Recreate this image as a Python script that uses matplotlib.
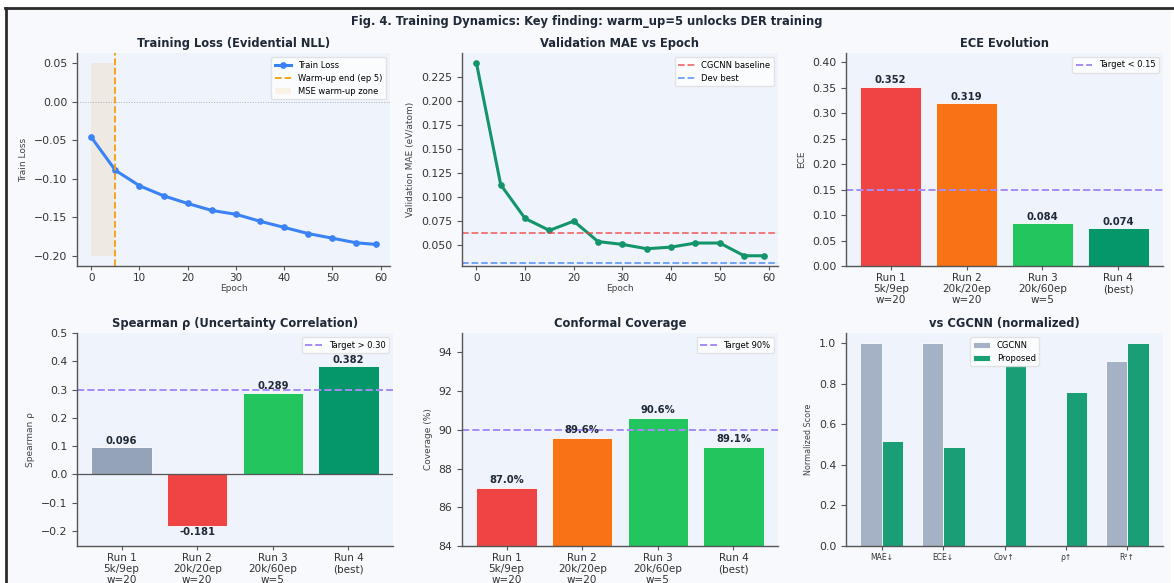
"""
Fig. 4 training dynamics: loss / MAE curves plus calibration bar charts.
"""

import matplotlib
matplotlib.use("Agg")
import matplotlib.pyplot as plt
import numpy as np
from matplotlib.lines import Line2D
from matplotlib.patches import Rectangle

# per-epoch curves
epochs = [0, 5, 10, 15, 20, 25, 30, 35, 40, 45, 50, 55, 59]
train_loss = [-0.046, -0.089, -0.109, -0.122, -0.132, -0.141, -0.146,
              -0.155, -0.163, -0.171, -0.177, -0.183, -0.185]
val_mae = [0.2395, 0.113, 0.078, 0.0656, 0.0752, 0.054, 0.0511,
           0.0466, 0.0483, 0.0525, 0.0525, 0.0393, 0.0393]
warmup_epoch = 5
cgcnn_mae = 0.063
dev_best_mae = 0.032

# per-run summary metrics
run_labels = ["Run 1\n5k/9ep\nw=20", "Run 2\n20k/20ep\nw=20",
              "Run 3\n20k/60ep\nw=5", "Run 4\n(best)"]
ece = [0.352, 0.319, 0.084, 0.074]
spearman = [0.096, -0.181, 0.289, 0.382]
coverage = [87.0, 89.6, 90.6, 89.1]
ece_target = 0.15
spearman_target = 0.30
coverage_target = 90

# normalized comparison against CGCNN
metric_labels = ["MAE↓", "ECE↓", "Cov↑", "ρ↑", "R²↑"]
cgcnn_norm = [1.0, 1.0, 0.0, 0.0, 0.91]
proposed_norm = [0.52, 0.49, 0.89, 0.76, 1.0]

RED = "#ef4444"
ORANGE = "#f97316"
GREEN = "#22c55e"
DARK_GREEN = "#059669"
SLATE = "#94a3b8"
PURPLE = "#a78bfa"
BLUE = "#3b82f6"
AX_BG = "#eef3fc"
FIG_BG = "#f7f9fc"
TEXT = "#1f2937"

plt.rcParams.update({
    "font.family": "DejaVu Sans",
    "font.size": 7,
    "axes.edgecolor": "#555555",
    "axes.linewidth": 1.0,
    "xtick.color": "#555555",
    "ytick.color": "#555555",
    "xtick.labelcolor": "#333333",
    "ytick.labelcolor": "#333333",
    "xtick.labelsize": 7.5,
    "ytick.labelsize": 7.8,
    "axes.labelsize": 6.5,
    "axes.labelcolor": "#444444",
    "legend.fontsize": 6,
})

W, H = 1174, 583


def px_axes(fig, left, top, right, bottom):
    """Add axes from pixel edges (measured from the top-left)."""
    ax = fig.add_axes([left / W, (H - bottom) / H, (right - left) / W, (bottom - top) / H])
    ax.set_facecolor(AX_BG)
    ax.spines["top"].set_visible(False)
    ax.spines["right"].set_visible(False)
    ax.tick_params(axis="x", length=3, width=0.8, pad=2)
    ax.tick_params(axis="y", length=3.5, width=0.8, pad=3.5)
    return ax


def title(ax, text):
    ax.set_title(text, fontsize=8.3, fontweight="bold", color=TEXT, pad=4)


def label_bars(ax, bars, values, fmt, offset):
    for bar, v in zip(bars, values):
        x = bar.get_x() + bar.get_width() / 2
        if v >= 0:
            ax.annotate(fmt.format(v), (x, v), xytext=(0, offset), textcoords="offset points",
                        ha="center", va="bottom", fontsize=7.2, fontweight="bold", color=TEXT)
        else:
            ax.annotate(fmt.format(v), (x, v), xytext=(0, -offset), textcoords="offset points",
                        ha="center", va="top", fontsize=7.2, fontweight="bold", color=TEXT)


fig = plt.figure(figsize=(W / 100, H / 100), dpi=100)
fig.patch.set_facecolor("white")

# page background and the frame on top / left
fig.add_artist(Rectangle((6 / W, 0), (1171 - 6) / W, (H - 8) / H,
                         transform=fig.transFigure, facecolor=FIG_BG, edgecolor="none", zorder=-10))
fig.add_artist(Line2D([5 / W, 1], [1 - 8 / H, 1 - 8 / H], transform=fig.transFigure,
                      color="#2b2b2b", lw=2))
fig.add_artist(Line2D([6 / W, 6 / W], [0, 1 - 8 / H], transform=fig.transFigure,
                      color="#2b2b2b", lw=2))

fig.text(0.5, 1 - 22 / H, "Fig. 4. Training Dynamics: Key finding: warm_up=5 unlocks DER training",
         ha="center", va="center", fontsize=8.3, fontweight="bold", color=TEXT)

cols = [(77, 390), (462, 778), (846, 1163)]
rows = [(53, 266), (333, 546)]
x_runs = np.arange(len(run_labels))

# --- training loss
ax = px_axes(fig, cols[0][0], rows[0][0], cols[0][1], rows[0][1])
ax.fill_between([0, warmup_epoch], -0.20, 0.05, color="#f59e0b", alpha=0.1, lw=0,
                label="MSE warm-up zone")
ax.plot(epochs, train_loss, "o-", color=BLUE, lw=2.2, ms=3.8, label="Train Loss")
ax.axvline(warmup_epoch, color="#f59e0b", ls="--", lw=1.3, label="Warm-up end (ep 5)")
ax.axhline(0, color="gray", ls=":", lw=0.7, alpha=0.6)
ax.set_xticks(range(0, 61, 10))
ax.set_yticks([0.05, 0.0, -0.05, -0.10, -0.15, -0.20])
ax.set_ylim(-0.213, 0.063)
ax.set_xlabel("Epoch", labelpad=1)
ax.set_ylabel("Train Loss")
h, l = ax.get_legend_handles_labels()
ax.legend([h[1], h[2], h[0]], [l[1], l[2], l[0]], loc="upper right", framealpha=0.8,
          edgecolor="#dddddd", fancybox=True)
title(ax, "Training Loss (Evidential NLL)")

# --- validation MAE
ax = px_axes(fig, cols[1][0], rows[0][0], cols[1][1], rows[0][1])
ax.plot(epochs, val_mae, "o-", color="#14946a", lw=2.2, ms=3.8)
ax.axhline(cgcnn_mae, color=RED, ls="--", lw=1.3, alpha=0.75, label="CGCNN baseline")
ax.axhline(dev_best_mae, color=BLUE, ls="--", lw=1.3, alpha=0.75, label="Dev best")
ax.set_xticks(range(0, 61, 10))
ax.set_yticks([0.050, 0.075, 0.100, 0.125, 0.150, 0.175, 0.200, 0.225])
ax.set_ylim(0.0287, 0.2495)
ax.set_xlabel("Epoch", labelpad=1)
ax.set_ylabel("Validation MAE (eV/atom)")
ax.legend(loc="upper right", framealpha=0.8, edgecolor="#dddddd")
title(ax, "Validation MAE vs Epoch")

# --- ECE per run
ax = px_axes(fig, cols[2][0], rows[0][0], cols[2][1], rows[0][1])
bars = ax.bar(x_runs, ece, width=0.8, color=[RED, ORANGE, GREEN, DARK_GREEN],
              edgecolor="white", lw=0.6)
label_bars(ax, bars, ece, "{:.3f}", 1)
ax.axhline(ece_target, color=PURPLE, ls="--", lw=1.4, label="Target < 0.15")
ax.set_xticks(x_runs)
ax.set_xticklabels(run_labels, linespacing=1.15)
ax.set_ylim(0, 0.418)
ax.set_yticks(np.arange(0, 0.41, 0.05))
ax.set_ylabel("ECE")
ax.legend(loc="upper right", framealpha=0.8, edgecolor="#dddddd")
title(ax, "ECE Evolution")

# --- Spearman rho per run
ax = px_axes(fig, cols[0][0], rows[1][0], cols[0][1] + 3, rows[1][1])
bars = ax.bar(x_runs, spearman, width=0.8, color=[SLATE, RED, GREEN, DARK_GREEN],
              edgecolor="white", lw=0.6)
label_bars(ax, bars, spearman, "{:.3f}", 1)
ax.axhline(0, color="#555555", lw=0.9)
ax.axhline(spearman_target, color=PURPLE, ls="--", lw=1.4, label="Target > 0.30")
ax.set_xticks(x_runs)
ax.set_xticklabels(run_labels, linespacing=1.15)
ax.set_ylim(-0.253, 0.5)
ax.set_yticks(np.arange(-0.2, 0.51, 0.1))
ax.set_ylabel("Spearman ρ")
ax.legend(loc="upper right", framealpha=0.8, edgecolor="#dddddd")
title(ax, "Spearman ρ (Uncertainty Correlation)")

# --- conformal coverage per run
ax = px_axes(fig, cols[1][0], rows[1][0], cols[1][1], rows[1][1])
bars = ax.bar(x_runs, coverage, width=0.8, color=[RED, ORANGE, GREEN, GREEN],
              edgecolor="white", lw=0.6)
label_bars(ax, bars, coverage, "{:.1f}%", 2)
ax.axhline(coverage_target, color=PURPLE, ls="--", lw=1.4, label="Target 90%")
ax.set_xticks(x_runs)
ax.set_xticklabels(run_labels, linespacing=1.15)
ax.set_ylim(84, 95)
ax.set_yticks(range(84, 95, 2))
ax.set_ylabel("Coverage (%)")
ax.legend(loc="upper right", framealpha=0.8, edgecolor="#dddddd")
title(ax, "Conformal Coverage")

# --- normalized comparison
ax = px_axes(fig, cols[2][0], rows[1][0], cols[2][1], rows[1][1])
x_m = np.arange(len(metric_labels))
w = 0.35
ax.bar(x_m - w / 2, cgcnn_norm, width=w, color="#a5b2c6", edgecolor="white", lw=0.6, label="CGCNN")
ax.bar(x_m + w / 2, proposed_norm, width=w, color="#1a9e76", edgecolor="white", lw=0.6,
       label="Proposed")
ax.set_xticks(x_m)
ax.set_xticklabels(metric_labels, fontsize=5.5)
ax.set_ylabel("Normalized Score", fontsize=5.8)
ax.legend(loc="upper center", framealpha=0.8, edgecolor="#dddddd")
title(ax, "vs CGCNN (normalized)")

fig.savefig("out.png", dpi=100, facecolor=fig.get_facecolor())
